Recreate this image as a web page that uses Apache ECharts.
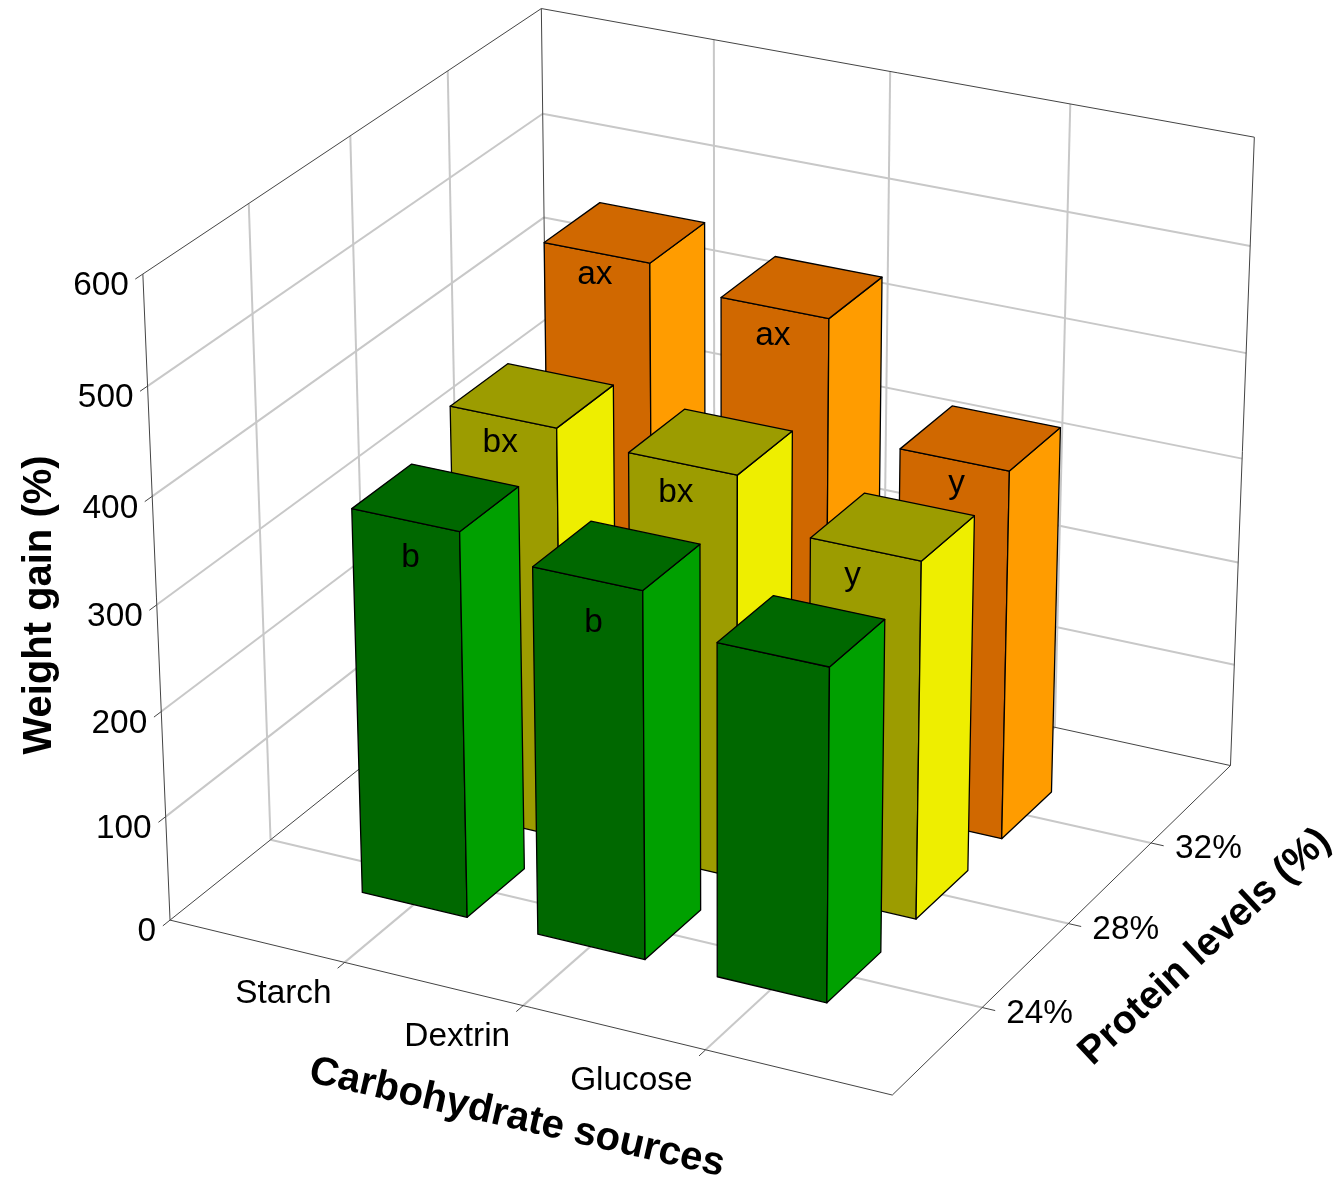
<!DOCTYPE html>
<html>
<head>
<meta charset="utf-8" />
<script src="https://cdn.jsdelivr.net/npm/echarts@6/dist/echarts.min.js"></script>
<style>html,body{margin:0;background:#fff}#main{width:1340px;height:1189px}</style>
</head>
<body>
<div id="main"></div>
<script type="text/javascript">
var categories = ['Starch', 'Dextrin', 'Glucose'];
var proteinLevels = ['24%', '28%', '32%'];
var weightTicks = [0, 100, 200, 300, 400, 500, 600];
// one list per protein level, in category order
var gain24 = [365, 347, 314];
var gain28 = [392, 383, 339];
var gain32 = [480, 461, 353];
var letters24 = ['b', 'b', ''];
var letters28 = ['bx', 'bx', 'y'];
var letters32 = ['ax', 'ax', 'y'];

var gains = [gain24, gain28, gain32];
var letters = [letters24, letters28, letters32];
var barColors = [
	{ front: '#006800', side: '#00a000' },
	{ front: '#9c9c00', side: '#eeee00' },
	{ front: '#d06800', side: '#ff9c00' }
];
// hand placed in the original, pixels from the middle of the front top edge
var letterNudge = [
	[[5, 38], [6, 44], [0, 0]],
	[[-3, 26], [-7, 29], [-13, 26]],
	[[-2, 22], [-2, 28], [2, 24]]
];

// picture of the box: axis position -> pixel, used to fit the camera below
var anchors = [
	[0, 0, 0, 170.7, 918.3], [0, 0, 600, 143.3, 274], [4, 0, 0, 893, 1093],
	[4, 4, 0, 1230, 765.3], [4, 4, 600, 1254.3, 137.7], [0, 4, 600, 540.7, 8],
	[1, 0, 0, 344, 962.7], [2, 0, 0, 523, 1007], [3, 0, 0, 703, 1052],
	[4, 1, 0, 983.3, 1006.7], [4, 2, 0, 1068.3, 923.3], [4, 3, 0, 1151.7, 843.3],
	[0, 1, 0, 271.7, 840], [0, 1, 600, 248.3, 203.3], [1, 4, 600, 713.7, 40],
	[3, 4, 600, 1070.7, 104], [0, 0, 500, 148.3, 385.7], [0, 0, 100, 165, 817.7]
];

function fitCamera(points) {
	var n = 11, ata = [], i, j, k;
	for (i = 0; i < n; i++) {
		ata.push(new Array(n + 1).fill(0));
	}
	function addRow(row, rhs) {
		for (var a = 0; a < n; a++) {
			for (var b = 0; b < n; b++) ata[a][b] += row[a] * row[b];
			ata[a][n] += row[a] * rhs;
		}
	}
	points.forEach(function (p) {
		var x = p[0], y = p[1], z = p[2] / 150, u = p[3], v = p[4];
		addRow([x, y, z, 1, 0, 0, 0, 0, -u * x, -u * y, -u * z], u);
		addRow([0, 0, 0, 0, x, y, z, 1, -v * x, -v * y, -v * z], v);
	});
	for (i = 0; i < n; i++) {
		var best = i;
		for (k = i + 1; k < n; k++) {
			if (Math.abs(ata[k][i]) > Math.abs(ata[best][i])) best = k;
		}
		var tmp = ata[i]; ata[i] = ata[best]; ata[best] = tmp;
		for (k = 0; k < n; k++) {
			if (k === i) continue;
			var f = ata[k][i] / ata[i][i];
			for (j = i; j <= n; j++) ata[k][j] -= f * ata[i][j];
		}
	}
	return ata.map(function (r, idx) { return r[n] / r[idx]; });
}

var cam = fitCamera(anchors);

function project(x, y, value) {
	var z = value / 150;
	var w = cam[8] * x + cam[9] * y + cam[10] * z + 1;
	return [
		(cam[0] * x + cam[1] * y + cam[2] * z + cam[3]) / w,
		(cam[4] * x + cam[5] * y + cam[6] * z + cam[7]) / w
	];
}

var halfBar = 0.3;
var barShift = 0.005;

// frame and grid lines as [x1, y1, z1, x2, y2, z2]
var gridLines = [], frameLines = [];
[1, 2, 3].forEach(function (t) {
	gridLines.push([t, 0, 0, t, 4, 0], [0, t, 0, 4, t, 0], [0, t, 0, 0, t, 600], [t, 4, 0, t, 4, 600]);
	frameLines.push([t, 0, 0, t, -0.07, 0], [4, t, 0, 4.07, t, 0]);
});
weightTicks.forEach(function (t) {
	if (t > 0 && t < 600) gridLines.push([0, 0, t, 0, 4, t], [0, 4, t, 4, 4, t]);
	frameLines.push([0, 0, t, 0, -0.07, t]);
});
frameLines.push(
	[0, 0, 0, 4, 0, 0], [4, 0, 0, 4, 4, 0], [0, 0, 0, 0, 4, 0], [0, 4, 0, 4, 4, 0],
	[0, 0, 0, 0, 0, 600], [0, 4, 0, 0, 4, 600], [4, 4, 0, 4, 4, 600],
	[0, 0, 600, 0, 4, 600], [0, 4, 600, 4, 4, 600]
);

function lineRenderer(color, width) {
	return function (params, api) {
		var a = project(api.value(0), api.value(1), api.value(2));
		var b = project(api.value(3), api.value(4), api.value(5));
		return {
			type: 'line',
			shape: { x1: a[0], y1: a[1], x2: b[0], y2: b[1] },
			style: { stroke: color, lineWidth: width }
		};
	};
}

// bars go back row first, left to right, so nearer ones paint over
var barData = [], barText = [], barNudge = [];
for (var r = 2; r >= 0; r--) {
	for (var c = 0; c < 3; c++) {
		barData.push([c + 1, r + 1, gains[r][c], r]);
		barText.push(letters[r][c]);
		barNudge.push(letterNudge[r][c]);
	}
}

function face(points, fill) {
	return {
		type: 'polygon',
		shape: { points: points },
		style: { fill: fill, stroke: '#000', lineWidth: 1.3, lineJoin: 'round' }
	};
}

function renderBar(params, api) {
	var x = api.value(0) + barShift, y = api.value(1), v = api.value(2), colors = barColors[api.value(3)];
	var x0 = x - halfBar, x1 = x + halfBar, y0 = y - halfBar, y1 = y + halfBar;
	var children = [
		face([project(x0, y0, 0), project(x1, y0, 0), project(x1, y0, v), project(x0, y0, v)], colors.front),
		face([project(x1, y0, 0), project(x1, y1, 0), project(x1, y1, v), project(x1, y0, v)], colors.side),
		face([project(x0, y0, v), project(x1, y0, v), project(x1, y1, v), project(x0, y1, v)], colors.front)
	];
	var label = barText[params.dataIndex];
	if (label) {
		var at = project(x, y0, v), nudge = barNudge[params.dataIndex];
		children.push({
			type: 'text',
			style: { x: at[0] + nudge[0], y: at[1] + nudge[1], text: label, fill: '#000', font: plainFont, textAlign: 'center', textVerticalAlign: 'middle' }
		});
	}
	return { type: 'group', children: children };
}

function tickText(list, place, align) {
	return {
		type: 'custom',
		coordinateSystem: 'none',
		silent: true,
		data: list.map(function (t, i) { return [i]; }),
		renderItem: function (params, api) {
			var p = place(list[params.dataIndex], params.dataIndex);
			return {
				type: 'text',
				style: { x: p[0], y: p[1], text: String(list[params.dataIndex]), fill: '#000', font: plainFont, textAlign: align, textVerticalAlign: 'middle' }
			};
		}
	};
}

var plainFont = '33.4px "Liberation Sans", Arial, sans-serif';
var boldFont = 'bold 40px "Liberation Sans", Arial, sans-serif';
var boldFontSmall = 'bold 39.3px "Liberation Sans", Arial, sans-serif';

var myChart = echarts.init(document.getElementById('main'), null, { renderer: 'canvas' });

var option = {
	backgroundColor: '#fff',
	animation: false,
	graphic: [
		{ type: 'text', x: 40, y: 605, rotation: Math.PI / 2, style: { text: 'Weight gain (%)', font: boldFont, fill: '#000', textAlign: 'center', textVerticalAlign: 'middle' } },
		{ type: 'text', x: 517, y: 1118, rotation: -0.225, style: { text: 'Carbohydrate sources', font: boldFont, fill: '#000', textAlign: 'center', textVerticalAlign: 'middle' } },
		{ type: 'text', x: 1205, y: 947, rotation: 0.75, style: { text: 'Protein levels (%)', font: boldFontSmall, fill: '#000', textAlign: 'center', textVerticalAlign: 'middle' } }
	],
	series: [
		{ type: 'custom', coordinateSystem: 'none', silent: true, data: gridLines, renderItem: lineRenderer('#c8c8c8', 2) },
		{ type: 'custom', coordinateSystem: 'none', silent: true, data: frameLines, renderItem: lineRenderer('#444', 1) },
		{ type: 'custom', coordinateSystem: 'none', silent: true, data: barData, renderItem: renderBar },
		tickText(weightTicks, function (t) { var p = project(0, 0, t); return [p[0] - 14, p[1] + 12]; }, 'right'),
		tickText(categories, function (t, i) { var p = project(i + 1, 0, 0); return [p[0] - 13, p[1] + 31]; }, 'right'),
		tickText(proteinLevels, function (t, i) { var p = project(4, i + 1, 0); return [p[0] + 24, p[1] + 6]; }, 'left')
	]
};

myChart.setOption(option);
</script>
</body>
</html>
